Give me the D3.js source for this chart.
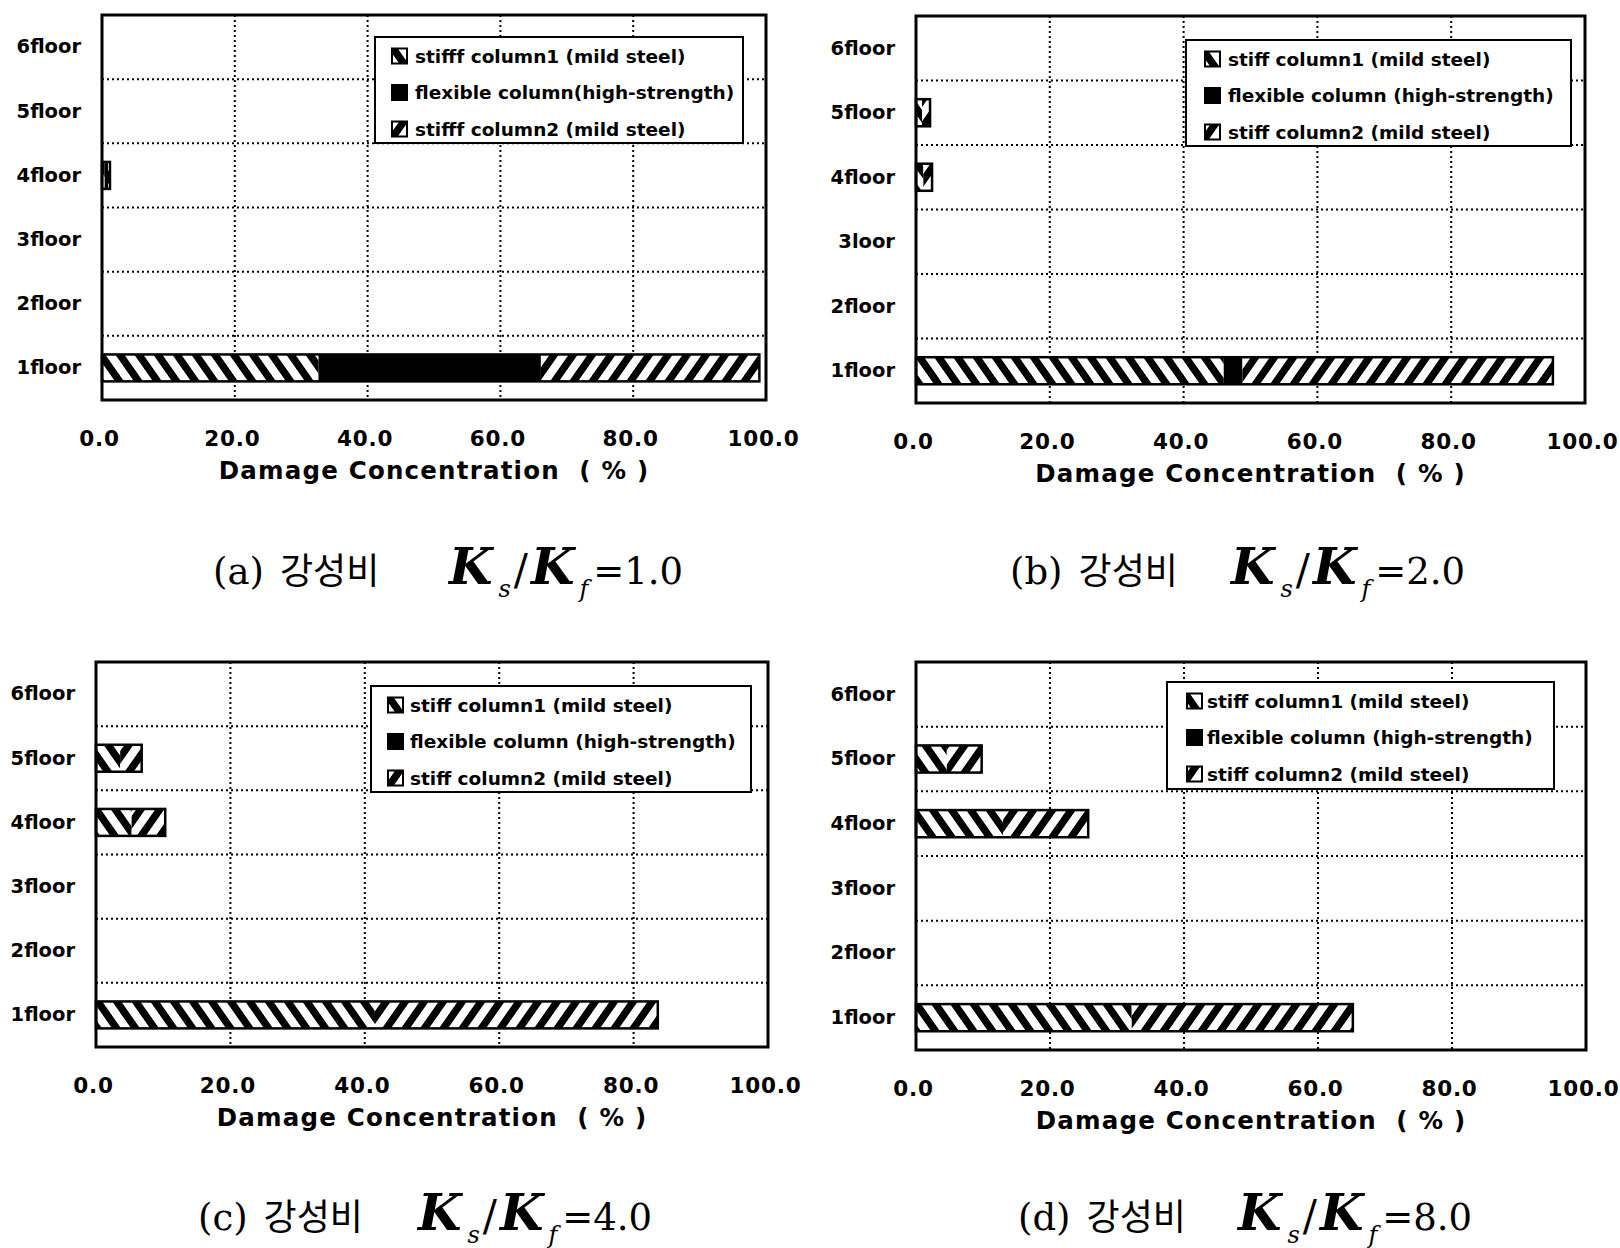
<!DOCTYPE html>
<html>
<head>
<meta charset="utf-8">
<style>
body
{
  margin:0;
  background:#fff;
}
svg text
{
  font-family:"DejaVu Sans", sans-serif;
}
</style>
<script src="https://cdnjs.cloudflare.com/ajax/libs/d3/7.8.5/d3.min.js"></script>
</head>
<body>
<script>
// floor labels, bottom to top (panel b really says "3loor")
var floorsStd = ["1floor", "2floor", "3floor", "4floor", "5floor", "6floor"];
var floorsB = ["1floor", "2floor", "3loor", "4floor", "5floor", "6floor"];
var xTicks = [0, 20, 40, 60, 80, 100];
var seriesKeys = ["stiff1", "flexible", "stiff2"];

var legendA = ["stifff column1 (mild steel)", "flexible column(high-strength)", "stifff column2 (mild steel)"];
var legendB = ["stiff column1 (mild steel)", "flexible column (high-strength)", "stiff column2 (mild steel)"];

// damage concentration (%) per floor, 1floor .. 6floor
var stiff1A = [32.6, 0, 0, 0.4, 0, 0];
var flexA   = [33.5, 0, 0, 0.5, 0, 0];
var stiff2A = [32.9, 0, 0, 0.3, 0, 0];

var stiff1B = [46.0, 0, 0, 1.1, 0.9, 0];
var flexB   = [2.8, 0, 0, 0, 0, 0];
var stiff2B = [46.4, 0, 0, 1.3, 1.2, 0];

var stiff1C = [41.5, 0, 0, 5.3, 3.6, 0];
var flexC   = [0, 0, 0, 0, 0, 0];
var stiff2C = [42.1, 0, 0, 5.0, 3.2, 0];

var stiff1D = [32.2, 0, 0, 13.0, 4.6, 0];
var flexD   = [0, 0, 0, 0, 0, 0];
var stiff2D = [33.0, 0, 0, 12.7, 5.2, 0];

var panelLetters = ["a", "b", "c", "d"];
var ratios = ["1.0", "2.0", "4.0", "8.0"];

var panels = [
  {floors: floorsStd, legend: legendA, s1: stiff1A, fl: flexA, s2: stiff2A},
  {floors: floorsB, legend: legendB, s1: stiff1B, fl: flexB, s2: stiff2B},
  {floors: floorsStd, legend: legendB, s1: stiff1C, fl: flexC, s2: stiff2C},
  {floors: floorsStd, legend: legendB, s1: stiff1D, fl: flexD, s2: stiff2D}
];

// where each panel sits on the page
var layout = [
  {left:102, right:766, top:15, bottom:400, lg:{x:375, y:37, w:368, h:106, sw:17, tx:40}, cap:{x:213, kx:449, y:584}},
  {left:916, right:1585, top:16, bottom:403, lg:{x:1186, y:40, w:385, h:106, sw:19, tx:42}, cap:{x:1010, kx:1231, y:584}},
  {left:96, right:768, top:662, bottom:1047, lg:{x:371, y:686, w:380, h:106, sw:17, tx:39}, cap:{x:198, kx:418, y:1230}},
  {left:916, right:1586, top:662, bottom:1050, lg:{x:1167, y:682, w:387, h:107, sw:20, tx:40}, cap:{x:1018, kx:1238, y:1230}}
];

var fills = {stiff1: "url(#hatchBack)", flexible: "#000", stiff2: "url(#hatchFwd)"};

var svg = d3.select("body")
  .append("svg")
  .attr("width", 1620)
  .attr("height", 1248);

var defs = svg.append("defs");
function hatch(id, skew)
{
  var p = defs.append("pattern")
    .attr("id", id)
    .attr("patternUnits", "userSpaceOnUse")
    .attr("width", 19)
    .attr("height", 19)
    .attr("patternTransform", "skewX(" + skew + ")");
  p.append("rect").attr("width", 19).attr("height", 19).attr("fill", "#fff");
  p.append("rect").attr("width", 9).attr("height", 19).attr("fill", "#000");
}
hatch("hatchBack", 35);
hatch("hatchFwd", -35);

function drawPanel(pn, L, idx)
{
  var g = svg.append("g");

  var rows = pn.floors.map(function(f, i){
    return {floor: f, stiff1: pn.s1[i], flexible: pn.fl[i], stiff2: pn.s2[i]};
  });

  var x = d3.scaleLinear().domain([0, 100]).range([L.left, L.right]);
  var y = d3.scaleBand()
    .domain(pn.floors.slice().reverse())
    .range([L.top, L.bottom])
    .paddingInner(0.58)
    .paddingOuter(0.29);
  var step = y.step();

  // dotted grid
  g.selectAll(".vgrid")
    .data(xTicks.slice(1, -1))
    .enter().append("line")
    .attr("x1", function(d){ return x(d); })
    .attr("x2", function(d){ return x(d); })
    .attr("y1", L.top)
    .attr("y2", L.bottom)
    .attr("stroke", "#000")
    .attr("stroke-width", 2)
    .attr("stroke-dasharray", "2,3");

  g.selectAll(".hgrid")
    .data(y.domain().slice(1))
    .enter().append("line")
    .attr("x1", L.left)
    .attr("x2", L.right)
    .attr("y1", function(d){ return y(d) - step * 0.29; })
    .attr("y2", function(d){ return y(d) - step * 0.29; })
    .attr("stroke", "#000")
    .attr("stroke-width", 2)
    .attr("stroke-dasharray", "2,3");

  // stacked bars
  var stack = d3.stack().keys(seriesKeys)(rows);
  stack.forEach(function(layer){
    g.selectAll(null)
      .data(layer.filter(function(d){ return d[1] - d[0] > 0; }))
      .enter().append("rect")
      .attr("x", function(d){ return x(d[0]); })
      .attr("width", function(d){ return x(d[1]) - x(d[0]); })
      .attr("y", function(d){ return y(d.data.floor); })
      .attr("height", y.bandwidth())
      .attr("fill", fills[layer.key]);
  });

  g.selectAll(".outline")
    .data(rows.filter(function(d){ return d.stiff1 + d.flexible + d.stiff2 > 0; }))
    .enter().append("rect")
    .attr("x", x(0))
    .attr("width", function(d){ return x(d.stiff1 + d.flexible + d.stiff2) - x(0); })
    .attr("y", function(d){ return y(d.floor); })
    .attr("height", y.bandwidth())
    .attr("fill", "none")
    .attr("stroke", "#000")
    .attr("stroke-width", 2.5);

  // frame
  g.append("rect")
    .attr("x", L.left)
    .attr("y", L.top)
    .attr("width", L.right - L.left)
    .attr("height", L.bottom - L.top)
    .attr("fill", "none")
    .attr("stroke", "#000")
    .attr("stroke-width", 3);

  // axes
  var ya = g.append("g")
    .call(d3.axisLeft(y).tickSize(0).tickPadding(21))
    .attr("transform", "translate(" + L.left + ",0)");
  ya.select(".domain").remove();
  ya.selectAll("text")
    .attr("font-family", "DejaVu Sans")
    .attr("font-weight", "bold")
    .attr("font-size", 19.5)
    .attr("fill", "#000");

  var xa = g.append("g")
    .attr("transform", "translate(0," + L.bottom + ")")
    .call(d3.axisBottom(x).tickValues(xTicks).tickFormat(d3.format(".1f")).tickSize(0));
  xa.select(".domain").remove();
  xa.selectAll("text")
    .attr("x", -3)
    .attr("y", 46)
    .attr("dy", 0)
    .attr("font-family", "DejaVu Sans")
    .attr("font-weight", "bold")
    .attr("font-size", 21.5)
    .attr("letter-spacing", 0.8)
    .attr("fill", "#000");

  g.append("text")
    .attr("x", (L.left + L.right) / 2)
    .attr("y", L.bottom + 79)
    .attr("text-anchor", "middle")
    .attr("font-weight", "bold")
    .attr("font-size", 24.5)
    .attr("letter-spacing", 1.2)
    .text("Damage Concentration\u00a0\u00a0( % )");

  // legend
  var lg = g.append("g").attr("transform", "translate(" + L.lg.x + "," + L.lg.y + ")");
  lg.append("rect")
    .attr("width", L.lg.w)
    .attr("height", L.lg.h)
    .attr("fill", "#fff")
    .attr("stroke", "#000")
    .attr("stroke-width", 2);
  var item = lg.selectAll(".item")
    .data(seriesKeys)
    .enter().append("g")
    .attr("transform", function(d, i){ return "translate(0," + (19 + i * 36.5) + ")"; });
  item.append("rect")
    .attr("x", L.lg.sw)
    .attr("y", -7.5)
    .attr("width", 15)
    .attr("height", 15)
    .attr("fill", function(d){ return fills[d]; })
    .attr("stroke", "#000")
    .attr("stroke-width", 2);
  item.append("text")
    .attr("x", L.lg.tx)
    .attr("dy", "0.36em")
    .attr("font-weight", "bold")
    .attr("font-size", 18.5)
    .text(function(d, i){ return pn.legend[i]; });

  // caption
  var cap = g.append("text")
    .attr("x", L.cap.x)
    .attr("y", L.cap.y)
    .attr("fill", "#000");
  cap.append("tspan")
    .attr("font-family", "DejaVu Serif")
    .attr("font-size", 37)
    .text("(" + panelLetters[idx] + ")");
  cap.append("tspan")
    .attr("dx", 16)
    .attr("font-family", "Noto Sans CJK KR")
    .attr("font-size", 36)
    .text("강성비");
  cap.append("tspan")
    .attr("x", L.cap.kx)
    .attr("font-family", "DejaVu Serif")
    .attr("font-style", "italic")
    .attr("font-weight", "bold")
    .attr("font-size", 50)
    .text("K");
  cap.append("tspan")
    .attr("dx", 6)
    .attr("dy", 13)
    .attr("font-family", "DejaVu Serif")
    .attr("font-style", "italic")
    .attr("font-size", 24)
    .text("s");
  cap.append("tspan")
    .attr("dx", 3)
    .attr("dy", -13)
    .attr("font-family", "DejaVu Serif")
    .attr("font-size", 42)
    .text("/");
  cap.append("tspan")
    .attr("dx", 3)
    .attr("font-family", "DejaVu Serif")
    .attr("font-style", "italic")
    .attr("font-weight", "bold")
    .attr("font-size", 50)
    .text("K");
  cap.append("tspan")
    .attr("dx", 5)
    .attr("dy", 13)
    .attr("font-family", "DejaVu Serif")
    .attr("font-style", "italic")
    .attr("font-size", 24)
    .text("f");
  cap.append("tspan")
    .attr("dx", 5)
    .attr("dy", -13)
    .attr("font-family", "DejaVu Serif")
    .attr("font-size", 37)
    .text("=" + ratios[idx]);
}

panels.forEach(function(pn, i){
  drawPanel(pn, layout[i], i);
});
</script>
</body>
</html>
